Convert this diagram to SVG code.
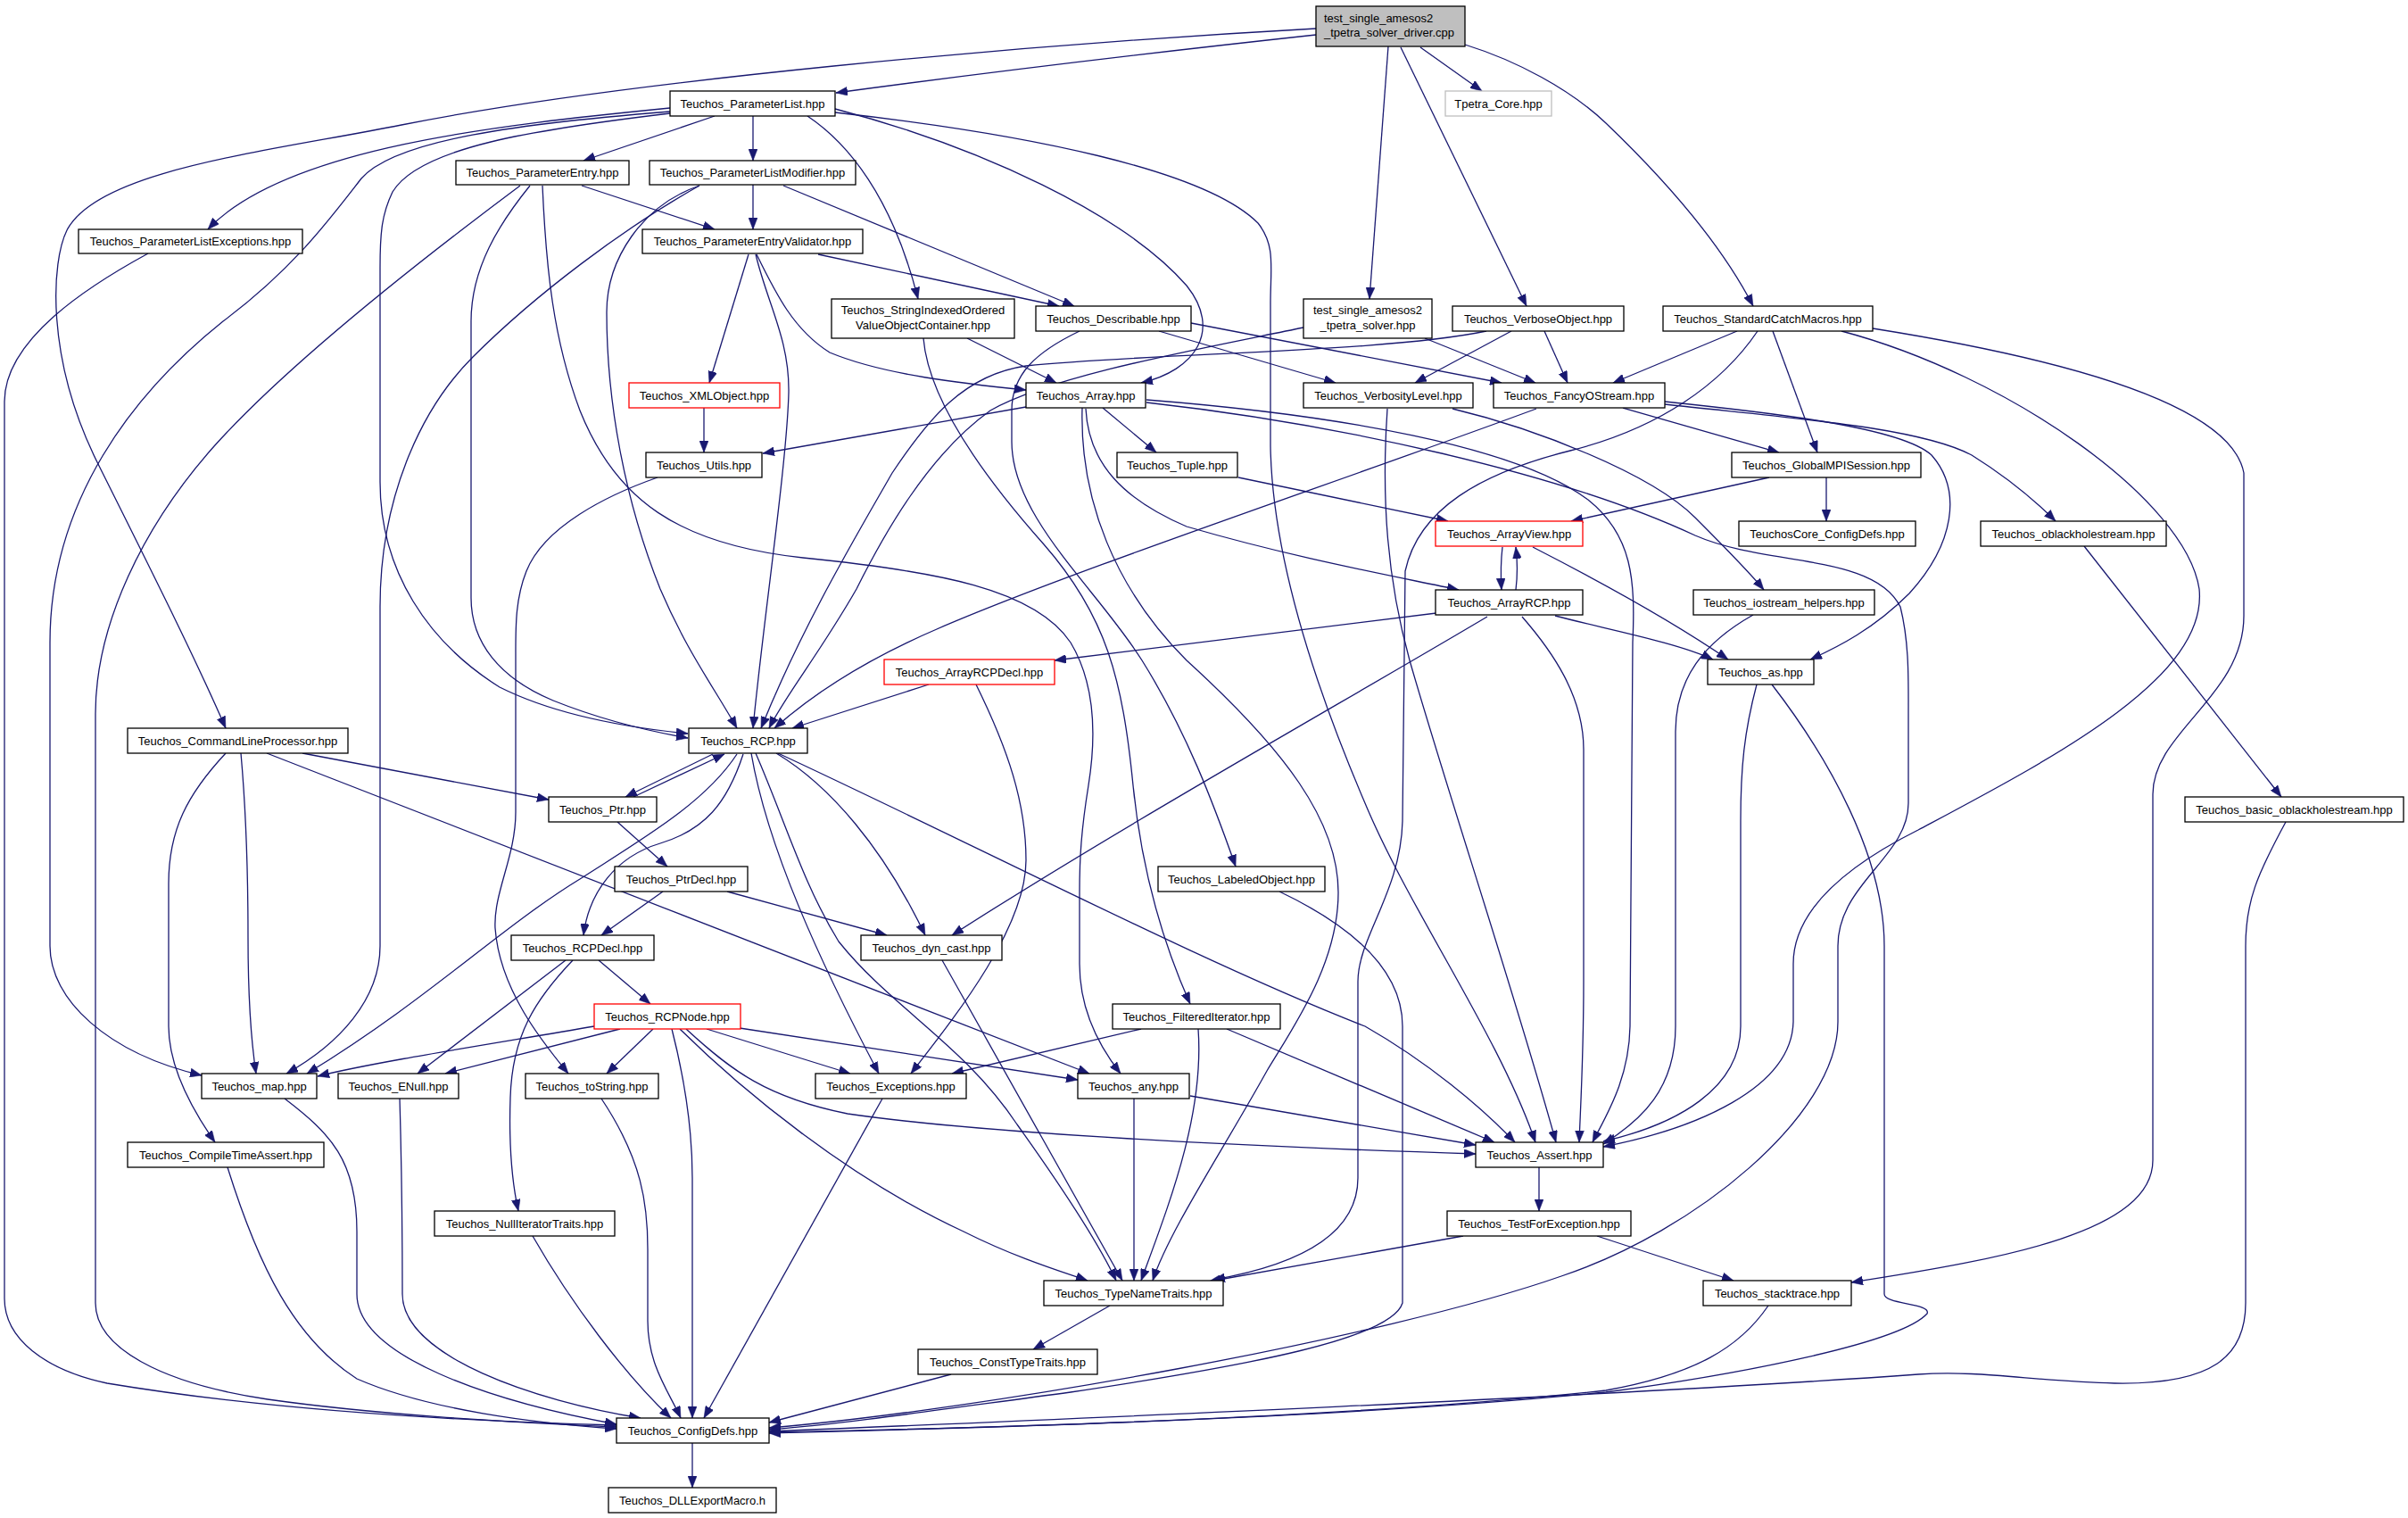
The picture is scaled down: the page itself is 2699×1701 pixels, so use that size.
<svg xmlns="http://www.w3.org/2000/svg" width="2699" height="1701" viewBox="0 0 2699 1701">
<defs>
<style>
.n rect{fill:#fff;stroke:#000;stroke-width:1.3}
.n.red rect{stroke:#ff0000}
.n.gry rect{stroke:#bfbfbf}
.n.root rect{fill:#bfbfbf}
text{font-family:"Liberation Sans",Arial,Helvetica,sans-serif;font-size:13px;fill:#000;text-anchor:middle}
text.l{text-anchor:start}
#edges path{fill:none;stroke:#191970;stroke-width:1.3;marker-end:url(#arr)}
</style>
<marker id="arr" markerUnits="userSpaceOnUse" markerWidth="14" markerHeight="10" refX="13" refY="5" orient="auto" viewBox="0 0 14 10"><path d="M0,0 L13,5 L0,10 z" fill="#191970" stroke="#191970" stroke-width="0.5"/></marker>
</defs>
<rect width="2699" height="1701" fill="#fff"/>
<g id="edges">
<path d="M1475,39 C1300,58 1100,82 937,104"/>
<path d="M1475,32 C1150,50 700,90 450,140 C300,170 110,190 75,258 C58,292 50,400 110,520 C170,640 220,740 253,816"/>
<path d="M1556,52 L1535,335"/>
<path d="M1592,53 L1661,102"/>
<path d="M1570,53 L1711,343"/>
<path d="M1642,50 C1700,68 1760,100 1800,138 C1870,205 1930,275 1965,343"/>
<path d="M801,130 L654,180"/>
<path d="M844,130 L844,180"/>
<path d="M751,121 C560,140 320,165 233,257"/>
<path d="M751,125 C560,140 440,160 405,200 C370,245 330,300 250,360 C150,440 56,560 56,720 L56,1060 C56,1120 120,1180 226,1205"/>
<path d="M751,127 C600,145 470,165 440,215 C428,240 426,260 426,300 L426,540 C426,640 480,720 560,770 C620,800 700,815 771,822"/>
<path d="M905,130 C950,160 1000,220 1029,335"/>
<path d="M936,122 C1100,165 1260,240 1330,320 C1370,370 1340,415 1279,429"/>
<path d="M936,126 C1150,150 1350,190 1410,250 C1430,275 1424,300 1424,340 L1424,500 C1426,620 1470,760 1530,900 C1580,1020 1680,1160 1721,1280"/>
<path d="M652,208 L801,257"/>
<path d="M594,208 C560,250 528,300 528,360 L528,670 C528,720 560,760 620,785 C670,805 720,818 771,827"/>
<path d="M583,208 C500,270 330,400 240,500 C160,590 107,700 107,800 L107,1460 C107,1510 180,1550 300,1568 C420,1585 560,1593 691,1599"/>
<path d="M608,208 C612,300 620,380 650,460 C690,560 760,610 900,625 C1050,640 1160,660 1200,720 C1230,770 1228,830 1220,880 C1212,930 1210,960 1210,1000 L1210,1080 C1210,1130 1230,1170 1256,1203"/>
<path d="M844,207 L844,257"/>
<path d="M878,208 L1204,343"/>
<path d="M784,208 C720,230 680,290 680,350 C680,450 700,560 740,660 C770,730 800,770 826,816"/>
<path d="M784,208 C700,255 600,330 530,400 C470,460 426,560 426,680 L426,1060 C426,1120 380,1170 321,1203"/>
<path d="M839,285 L795,429"/>
<path d="M847,285 C860,340 885,380 884,440 C882,520 855,700 844,816"/>
<path d="M848,285 C870,330 890,370 930,395 C990,420 1080,430 1150,437"/>
<path d="M917,285 L1187,343"/>
<path d="M789,457 L789,507"/>
<path d="M1150,456 L855,508"/>
<path d="M1084,379 L1184,429"/>
<path d="M1035,379 C1040,440 1090,520 1170,610 C1240,690 1258,760 1270,880 C1280,980 1305,1060 1334,1125"/>
<path d="M1299,371 L1497,429"/>
<path d="M1335,362 L1683,429"/>
<path d="M1210,371 C1160,395 1134,420 1134,460 L1134,495 C1134,580 1230,660 1280,740 C1330,820 1360,900 1385,971"/>
<path d="M1597,379 L1721,429"/>
<path d="M1461,367 C1350,390 1180,420 1110,460 C1040,510 990,600 960,660 C920,730 880,780 862,816"/>
<path d="M1666,371 C1550,395 1300,395 1150,410 C1080,420 1040,470 1000,530 C960,600 900,700 853,816"/>
<path d="M1722,458 C1500,540 1200,640 1050,705 C980,735 920,770 868,816"/>
<path d="M1731,371 L1757,429"/>
<path d="M1694,371 L1586,429"/>
<path d="M1947,371 L1808,429"/>
<path d="M1987,371 L2037,507"/>
<path d="M1970,371 C1930,430 1860,480 1760,505 C1660,530 1590,570 1575,640 L1572,920 C1570,1000 1522,1050 1522,1100 L1522,1320 C1522,1390 1440,1420 1360,1434"/>
<path d="M2064,371 C2250,420 2450,560 2465,660 C2475,760 2300,850 2150,930 C2050,980 2010,1030 2010,1080 L2010,1145 C2008,1220 1900,1265 1797,1285"/>
<path d="M2099,368 C2300,400 2500,450 2515,530 L2515,690 C2515,780 2413,820 2413,890 L2413,1300 C2413,1380 2250,1410 2075,1437"/>
<path d="M2047,535 L2047,584"/>
<path d="M1983,535 L1761,584"/>
<path d="M1819,457 L1994,507"/>
<path d="M1866,453 C2000,468 2150,478 2210,510 C2250,535 2280,560 2304,584"/>
<path d="M1866,450 C1980,462 2130,478 2165,510 C2200,550 2190,610 2140,665 C2100,705 2060,725 2029,739"/>
<path d="M2336,612 L2557,893"/>
<path d="M2562,921 C2530,980 2517,1010 2517,1060 L2517,1460 C2517,1520 2480,1552 2370,1550 C2280,1548 2220,1535 2150,1540 C1800,1565 1200,1590 862,1604"/>
<path d="M1965,689 C1910,720 1878,760 1878,820 L1878,1150 C1878,1220 1840,1255 1797,1282"/>
<path d="M1969,767 C1955,820 1951,860 1951,920 L1951,1150 C1951,1220 1880,1260 1797,1279"/>
<path d="M1986,767 C2050,850 2112,960 2112,1060 L2112,1450 C2112,1462 2165,1460 2160,1472 C2130,1505 1950,1540 1800,1560 C1500,1590 1100,1600 862,1605"/>
<path d="M1285,451 C1500,475 1750,530 1900,600 C1980,635 2100,620 2130,680 C2140,720 2139,760 2139,800 L2139,900 C2139,960 2060,990 2060,1060 L2060,1145 C2060,1250 1900,1380 1750,1430 C1550,1500 1100,1580 862,1600"/>
<path d="M1285,448 C1500,465 1700,500 1780,560 C1830,600 1833,650 1830,720 L1827,1150 C1826,1210 1800,1250 1785,1280"/>
<path d="M1236,457 L1296,507"/>
<path d="M1217,458 C1220,520 1260,560 1330,590 C1450,625 1560,645 1635,661"/>
<path d="M1213,457 C1210,560 1250,660 1330,740 C1440,840 1500,920 1500,1000 C1500,1080 1450,1150 1420,1200 C1370,1290 1310,1380 1292,1435"/>
<path d="M1388,535 L1623,584"/>
<path d="M1684,613 C1682,630 1682,645 1683,661"/>
<path d="M1699,661 C1701,645 1701,630 1699,613"/>
<path d="M1718,613 C1800,655 1880,700 1937,739"/>
<path d="M1743,690 C1800,705 1880,720 1920,739"/>
<path d="M1610,687 L1182,740"/>
<path d="M1667,691 C1500,790 1250,930 1067,1048"/>
<path d="M1706,691 C1740,730 1775,780 1775,840 L1775,1100 C1775,1180 1772,1230 1770,1280"/>
<path d="M1555,458 C1548,560 1555,650 1580,740 C1620,880 1700,1120 1744,1280"/>
<path d="M1628,458 C1720,480 1850,530 1900,580 C1930,610 1960,640 1977,661"/>
<path d="M1041,767 L888,816"/>
<path d="M1094,767 C1130,840 1150,900 1150,964 C1150,1040 1070,1140 1021,1203"/>
<path d="M339,844 L615,896"/>
<path d="M270,844 C275,900 278,960 278,1050 C278,1120 282,1170 287,1203"/>
<path d="M253,844 C210,890 189,930 189,990 L189,1150 C189,1200 220,1250 241,1280"/>
<path d="M299,844 L1221,1203"/>
<path d="M799,845 L701,893"/>
<path d="M710,893 L812,845"/>
<path d="M833,845 C815,900 790,930 740,945 C690,960 660,1000 654,1048"/>
<path d="M826,845 C790,900 720,940 650,985 C560,1040 480,1120 344,1203"/>
<path d="M870,844 C930,880 990,950 1037,1048"/>
<path d="M842,844 C860,950 920,1080 985,1203"/>
<path d="M847,844 C880,920 900,990 940,1055 C1000,1130 1080,1170 1140,1260 C1190,1330 1230,1390 1251,1435"/>
<path d="M872,844 C1100,950 1350,1080 1530,1150 C1600,1190 1660,1240 1698,1280"/>
<path d="M692,921 L748,971"/>
<path d="M743,999 L674,1048"/>
<path d="M815,999 L994,1048"/>
<path d="M671,1076 L729,1125"/>
<path d="M634,1076 L468,1203"/>
<path d="M642,1076 C600,1120 574,1160 572,1230 C570,1290 575,1330 581,1357"/>
<path d="M666,1150 C550,1170 420,1190 356,1206"/>
<path d="M695,1153 L499,1203"/>
<path d="M732,1153 L680,1203"/>
<path d="M753,1153 C765,1200 776,1260 776,1320 L776,1589"/>
<path d="M792,1153 L953,1203"/>
<path d="M829,1152 L1208,1210"/>
<path d="M762,1153 C830,1220 950,1320 1080,1380 C1140,1410 1190,1425 1219,1435"/>
<path d="M769,1153 C820,1200 860,1230 950,1248 C1100,1270 1400,1285 1654,1293"/>
<path d="M319,1231 C370,1270 400,1300 400,1380 L400,1450 C400,1520 550,1570 691,1596"/>
<path d="M448,1231 C450,1300 451,1380 451,1450 C451,1520 600,1570 718,1589"/>
<path d="M674,1231 C720,1300 726,1350 726,1400 L726,1480 C726,1530 750,1560 763,1589"/>
<path d="M597,1385 C640,1460 700,1540 752,1589"/>
<path d="M255,1308 C290,1420 330,1500 400,1545 C480,1580 600,1595 691,1601"/>
<path d="M166,284 C100,320 5,380 5,450 L5,1455 C5,1500 50,1535 120,1550 C300,1580 500,1592 691,1597"/>
<path d="M989,1231 L789,1589"/>
<path d="M1056,1076 L1258,1435"/>
<path d="M1271,1231 L1271,1435"/>
<path d="M1343,1153 C1350,1250 1310,1350 1279,1435"/>
<path d="M1279,1153 L1067,1203"/>
<path d="M1375,1153 L1675,1280"/>
<path d="M1334,1228 L1654,1283"/>
<path d="M1434,999 C1520,1040 1572,1090 1572,1150 L1572,1460 C1560,1500 1400,1530 1200,1560 C1050,1580 950,1595 862,1602"/>
<path d="M1244,1463 L1158,1512"/>
<path d="M1066,1540 L862,1594"/>
<path d="M1725,1308 L1725,1357"/>
<path d="M1640,1385 L1355,1436"/>
<path d="M1790,1385 L1943,1435"/>
<path d="M1982,1463 C1950,1510 1900,1540 1800,1558 C1500,1590 1100,1600 862,1606"/>
<path d="M776,1617 L776,1667"/>
<path d="M737,535 C680,555 610,590 590,640 C578,670 578,700 578,730 L578,910 C578,960 553,1000 555,1040 C560,1110 610,1170 637,1203"/>
</g>
<g id="n_driver" class="n root"><rect x="1475" y="7" width="167" height="45"/><text class="l" x="1484" y="24.5">test_single_amesos2</text><text class="l" x="1484" y="40.5">_tpetra_solver_driver.cpp</text></g>
<g id="n_ParameterList" class="n"><rect x="751" y="102" width="185" height="28"/><text x="843.5" y="120.5">Teuchos_ParameterList.hpp</text></g>
<g id="n_TpetraCore" class="n gry"><rect x="1620" y="102" width="119" height="28"/><text x="1679.5" y="120.5">Tpetra_Core.hpp</text></g>
<g id="n_ParameterEntry" class="n"><rect x="511" y="180" width="194" height="27"/><text x="608" y="198">Teuchos_ParameterEntry.hpp</text></g>
<g id="n_ParameterListModifier" class="n"><rect x="728" y="180" width="231" height="27"/><text x="843.5" y="198">Teuchos_ParameterListModifier.hpp</text></g>
<g id="n_ParameterListExceptions" class="n"><rect x="88" y="257" width="251" height="27"/><text x="213.5" y="275">Teuchos_ParameterListExceptions.hpp</text></g>
<g id="n_ParameterEntryValidator" class="n"><rect x="720" y="257" width="247" height="27"/><text x="843.5" y="275">Teuchos_ParameterEntryValidator.hpp</text></g>
<g id="n_StringIndexed" class="n"><rect x="932" y="335" width="205" height="44"/><text x="1034.5" y="351.5">Teuchos_StringIndexedOrdered</text><text x="1034.5" y="368.5">ValueObjectContainer.hpp</text></g>
<g id="n_Describable" class="n"><rect x="1161" y="343" width="174" height="28"/><text x="1248" y="361.5">Teuchos_Describable.hpp</text></g>
<g id="n_solver" class="n"><rect x="1461" y="335" width="144" height="44"/><text x="1533" y="351.5">test_single_amesos2</text><text x="1533" y="368.5">_tpetra_solver.hpp</text></g>
<g id="n_VerboseObject" class="n"><rect x="1628" y="343" width="192" height="28"/><text x="1724" y="361.5">Teuchos_VerboseObject.hpp</text></g>
<g id="n_StandardCatchMacros" class="n"><rect x="1864" y="343" width="235" height="28"/><text x="1981.5" y="361.5">Teuchos_StandardCatchMacros.hpp</text></g>
<g id="n_XMLObject" class="n red"><rect x="705" y="429" width="169" height="28"/><text x="789.5" y="447.5">Teuchos_XMLObject.hpp</text></g>
<g id="n_Array" class="n"><rect x="1150" y="429" width="134" height="28"/><text x="1217" y="447.5">Teuchos_Array.hpp</text></g>
<g id="n_VerbosityLevel" class="n"><rect x="1461" y="429" width="190" height="28"/><text x="1556" y="447.5">Teuchos_VerbosityLevel.hpp</text></g>
<g id="n_FancyOStream" class="n"><rect x="1674" y="429" width="192" height="28"/><text x="1770" y="447.5">Teuchos_FancyOStream.hpp</text></g>
<g id="n_Utils" class="n"><rect x="724" y="507" width="130" height="28"/><text x="789" y="525.5">Teuchos_Utils.hpp</text></g>
<g id="n_Tuple" class="n"><rect x="1252" y="507" width="135" height="28"/><text x="1319.5" y="525.5">Teuchos_Tuple.hpp</text></g>
<g id="n_GlobalMPISession" class="n"><rect x="1941" y="507" width="212" height="28"/><text x="2047" y="525.5">Teuchos_GlobalMPISession.hpp</text></g>
<g id="n_ArrayView" class="n red"><rect x="1609" y="584" width="165" height="28"/><text x="1691.5" y="602.5">Teuchos_ArrayView.hpp</text></g>
<g id="n_TeuchosCoreConfigDefs" class="n"><rect x="1949" y="584" width="198" height="28"/><text x="2048" y="602.5">TeuchosCore_ConfigDefs.hpp</text></g>
<g id="n_oblackholestream" class="n"><rect x="2220" y="584" width="208" height="28"/><text x="2324" y="602.5">Teuchos_oblackholestream.hpp</text></g>
<g id="n_ArrayRCP" class="n"><rect x="1609" y="661" width="165" height="28"/><text x="1691.5" y="679.5">Teuchos_ArrayRCP.hpp</text></g>
<g id="n_iostream_helpers" class="n"><rect x="1898" y="661" width="203" height="28"/><text x="1999.5" y="679.5">Teuchos_iostream_helpers.hpp</text></g>
<g id="n_ArrayRCPDecl" class="n red"><rect x="991" y="739" width="191" height="28"/><text x="1086.5" y="757.5">Teuchos_ArrayRCPDecl.hpp</text></g>
<g id="n_as" class="n"><rect x="1914" y="739" width="119" height="28"/><text x="1973.5" y="757.5">Teuchos_as.hpp</text></g>
<g id="n_CommandLineProcessor" class="n"><rect x="143" y="816" width="247" height="28"/><text x="266.5" y="834.5">Teuchos_CommandLineProcessor.hpp</text></g>
<g id="n_RCP" class="n"><rect x="772" y="816" width="133" height="28"/><text x="838.5" y="834.5">Teuchos_RCP.hpp</text></g>
<g id="n_Ptr" class="n"><rect x="615" y="893" width="121" height="28"/><text x="675.5" y="911.5">Teuchos_Ptr.hpp</text></g>
<g id="n_basic_oblackholestream" class="n"><rect x="2449" y="893" width="245" height="28"/><text x="2571.5" y="911.5">Teuchos_basic_oblackholestream.hpp</text></g>
<g id="n_PtrDecl" class="n"><rect x="689" y="971" width="149" height="28"/><text x="763.5" y="989.5">Teuchos_PtrDecl.hpp</text></g>
<g id="n_LabeledObject" class="n"><rect x="1298" y="971" width="187" height="28"/><text x="1391.5" y="989.5">Teuchos_LabeledObject.hpp</text></g>
<g id="n_RCPDecl" class="n"><rect x="573" y="1048" width="160" height="28"/><text x="653" y="1066.5">Teuchos_RCPDecl.hpp</text></g>
<g id="n_dyn_cast" class="n"><rect x="965" y="1048" width="158" height="28"/><text x="1044" y="1066.5">Teuchos_dyn_cast.hpp</text></g>
<g id="n_RCPNode" class="n red"><rect x="666" y="1125" width="164" height="28"/><text x="748" y="1143.5">Teuchos_RCPNode.hpp</text></g>
<g id="n_FilteredIterator" class="n"><rect x="1247" y="1125" width="188" height="28"/><text x="1341" y="1143.5">Teuchos_FilteredIterator.hpp</text></g>
<g id="n_map" class="n"><rect x="226" y="1203" width="129" height="28"/><text x="290.5" y="1221.5">Teuchos_map.hpp</text></g>
<g id="n_ENull" class="n"><rect x="379" y="1203" width="135" height="28"/><text x="446.5" y="1221.5">Teuchos_ENull.hpp</text></g>
<g id="n_toString" class="n"><rect x="589" y="1203" width="149" height="28"/><text x="663.5" y="1221.5">Teuchos_toString.hpp</text></g>
<g id="n_Exceptions" class="n"><rect x="914" y="1203" width="169" height="28"/><text x="998.5" y="1221.5">Teuchos_Exceptions.hpp</text></g>
<g id="n_any" class="n"><rect x="1208" y="1203" width="125" height="28"/><text x="1270.5" y="1221.5">Teuchos_any.hpp</text></g>
<g id="n_CompileTimeAssert" class="n"><rect x="143" y="1280" width="220" height="28"/><text x="253" y="1298.5">Teuchos_CompileTimeAssert.hpp</text></g>
<g id="n_Assert" class="n"><rect x="1654" y="1280" width="143" height="28"/><text x="1725.5" y="1298.5">Teuchos_Assert.hpp</text></g>
<g id="n_NullIteratorTraits" class="n"><rect x="487" y="1357" width="202" height="28"/><text x="588" y="1375.5">Teuchos_NullIteratorTraits.hpp</text></g>
<g id="n_TestForException" class="n"><rect x="1622" y="1357" width="206" height="28"/><text x="1725" y="1375.5">Teuchos_TestForException.hpp</text></g>
<g id="n_TypeNameTraits" class="n"><rect x="1170" y="1435" width="201" height="28"/><text x="1270.5" y="1453.5">Teuchos_TypeNameTraits.hpp</text></g>
<g id="n_stacktrace" class="n"><rect x="1909" y="1435" width="166" height="28"/><text x="1992" y="1453.5">Teuchos_stacktrace.hpp</text></g>
<g id="n_ConstTypeTraits" class="n"><rect x="1029" y="1512" width="201" height="28"/><text x="1129.5" y="1530.5">Teuchos_ConstTypeTraits.hpp</text></g>
<g id="n_ConfigDefs" class="n"><rect x="691" y="1589" width="171" height="28"/><text x="776.5" y="1607.5">Teuchos_ConfigDefs.hpp</text></g>
<g id="n_DLLExportMacro" class="n"><rect x="682" y="1667" width="188" height="28"/><text x="776" y="1685.5">Teuchos_DLLExportMacro.h</text></g>
</svg>
